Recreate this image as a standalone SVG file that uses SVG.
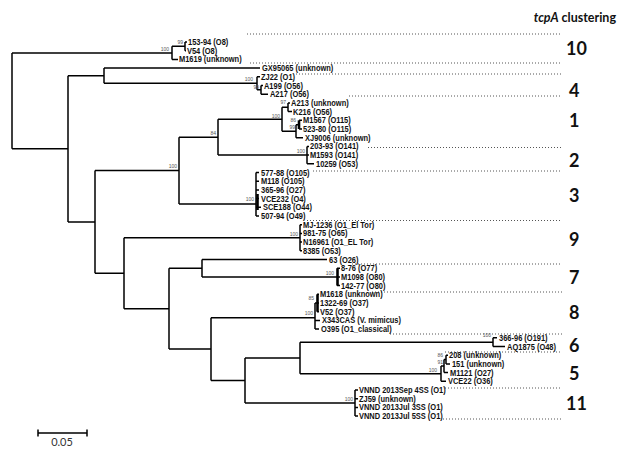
<svg xmlns="http://www.w3.org/2000/svg" width="627" height="450" viewBox="0 0 627 450">
<style>
.br{fill:none;stroke:#000;stroke-width:1.5}
.thk{fill:none;stroke:#000;stroke-width:2.6}
.dot{fill:none;stroke:#555;stroke-width:1;stroke-dasharray:1 2}
.lf{font-family:"Liberation Sans",Arial,sans-serif;font-weight:bold;font-size:8.6px;fill:#111}
.bs{font-family:"Liberation Sans",Arial,sans-serif;font-size:5px;fill:#555;text-anchor:end}
.cl{font-family:Lato,"Open Sans",sans-serif;font-weight:bold;font-size:18px;fill:#111}
.ti{font-family:Lato,"Open Sans",sans-serif;font-weight:bold;font-size:12.5px;fill:#111}
.sc{font-family:Lato,"Open Sans",sans-serif;font-size:11px;fill:#333;text-anchor:middle}
</style>
<rect width="627" height="450" fill="#fff"/>
<text class="ti" x="616" y="22" text-anchor="end"><tspan font-style="italic">tcpA</tspan> clustering</text>
<g id="separators">
<path class="dot" d="M247,34 H562 M250,63 H562 M296,74 H562 M349,96 H562 M368,147.5 H562 M313,171 H562 M307,220.5 H562 M352,264 H562 M372,292 H562 M390,334 H562 M445,352 H562 M445,388 H562 M443,419 H562"/>
</g>
<g id="connectors">
<path class="br" d="M12,52.9 V148.8 M12,52.9 H172 M12,148.8 H68"/>
<path class="br" d="M172,46.35 V59.4 M172,46.35 H185 M172,59.4 H178"/>
<path class="br" d="M185,42 V50.7 M185,42 H187 M185,50.7 H186"/>
<path class="br" d="M68,75.7 V221.9 M68,75.7 H104 M68,221.9 H95"/>
<path class="br" d="M104,68.1 V83.3 M104,68.1 H260 M104,83.3 H257"/>
<path class="br" d="M257,76.8 V89.85 M257,76.8 H260 M257,89.85 H261"/>
<path class="br" d="M261,85.5 V94.2 M261,85.5 H263 M261,94.2 H268"/>
<path class="br" d="M95,170.6 V273.2 M95,170.6 H179 M95,273.2 H124"/>
<path class="br" d="M179,137.15 V204 M179,137.15 H218 M179,204 H256"/>
<path class="br" d="M218,119.2 V155.1 M218,119.2 H282 M218,155.1 H307"/>
<path class="br" d="M282,107.25 V131.2 M282,107.25 H288 M282,131.2 H296"/>
<path class="br" d="M288,102.9 V111.6 M288,102.9 H290 M288,111.6 H292"/>
<path class="br" d="M296,124.65 V137.7 M296,124.65 H299 M296,137.7 H303"/>
<path class="thk" d="M299,120.3 V129"/>
<path class="br" d="M299,120.3 H302 M299,129 H302"/>
<path class="br" d="M307,146.4 V163.8 M307,146.4 H309 M307,155.1 H309 M307,163.8 H314"/>
<path class="br" d="M256,172.5 V216 M256,172.5 H259 M256,181.2 H259 M256,189.9 H259 M256,198.6 H259 M256,207.3 H261 M256,216 H259"/>
<path class="thk" d="M257.5,194 V210"/>
<path class="br" d="M124,237.75 V308.65 M124,237.75 H300 M124,308.65 H169"/>
<path class="br" d="M300,224.7 V250.8 M300,224.7 H302 M300,233.4 H302 M300,242.1 H302 M300,250.8 H302"/>
<path class="br" d="M169,268.2 V349.1 M169,268.2 H202 M169,349.1 H211"/>
<path class="br" d="M202,259.5 V276.9 M202,259.5 H327 M202,276.9 H337"/>
<path class="thk" d="M337.5,268.2 V285.6"/>
<path class="br" d="M337,268.2 H340 M337,276.9 H340 M337,285.6 H340"/>
<path class="br" d="M211,317.7 V380.5 M211,317.7 H315 M211,380.5 H245"/>
<path class="br" d="M315,303 V329.1 M315,303 H317 M315,320.4 H320 M315,329.1 H319"/>
<path class="thk" d="M317.5,294.3 V311.7"/>
<path class="br" d="M317,294.3 H319 M317,303 H319 M317,311.7 H319"/>
<path class="br" d="M245,357.9 V403.05 M245,357.9 H300 M245,403.05 H355"/>
<path class="br" d="M300,342.15 V373.7 M300,342.15 H493 M300,373.7 H441"/>
<path class="br" d="M493,337.8 V346.5 M493,337.8 H497 M493,346.5 H505"/>
<path class="br" d="M441,366.1 V381.3 M441,366.1 H444 M441,381.3 H446"/>
<path class="br" d="M444,359.55 V372.6 M444,359.55 H446 M444,372.6 H448"/>
<path class="br" d="M446,355.2 V363.9 M446,355.2 H448 M446,363.9 H450"/>
<path class="br" d="M355,390 V416.1 M355,390 H358 M355,398.7 H358 M355,407.4 H358 M355,416.1 H358"/>
</g>
<g id="bootstrap">
<text class="bs" x="169" y="51">100</text>
<text class="bs" x="183" y="44">99</text>
<text class="bs" x="253" y="81">100</text>
<text class="bs" x="259" y="89">99</text>
<text class="bs" x="286" y="104">97</text>
<text class="bs" x="280" y="118">100</text>
<text class="bs" x="296" y="122">86</text>
<text class="bs" x="295" y="129">99</text>
<text class="bs" x="216" y="135">84</text>
<text class="bs" x="177" y="168">100</text>
<text class="bs" x="305" y="153">100</text>
<text class="bs" x="254" y="201">100</text>
<text class="bs" x="298" y="236">100</text>
<text class="bs" x="334" y="275">100</text>
<text class="bs" x="314" y="300">85</text>
<text class="bs" x="313" y="315">100</text>
<text class="bs" x="491" y="337">100</text>
<text class="bs" x="443" y="357">86</text>
<text class="bs" x="443" y="364">91</text>
<text class="bs" x="437" y="372">100</text>
<text class="bs" x="353" y="401">100</text>
</g>
<g id="leaves" transform="scale(0.87,1)">
<g id="n153-94"><text class="lf" x="216.1" y="45.1">153-94 (O8)</text></g>
<g id="nV54"><text class="lf" x="214.9" y="53.8">V54 (O8)</text></g>
<g id="nM1619"><text class="lf" x="205.7" y="62.5">M1619 (unknown)</text></g>
<g id="nGX95065"><text class="lf" x="301.1" y="71.2">GX95065 (unknown)</text></g>
<g id="nZJ22"><text class="lf" x="300" y="79.9">ZJ22 (O1)</text></g>
<g id="nA199"><text class="lf" x="303.4" y="88.6">A199 (O56)</text></g>
<g id="nA217"><text class="lf" x="310.3" y="97.3">A217 (O56)</text></g>
<g id="nA213"><text class="lf" x="334.5" y="106">A213 (unknown)</text></g>
<g id="nK216"><text class="lf" x="336.8" y="114.7">K216 (O56)</text></g>
<g id="nM1567"><text class="lf" x="348.3" y="123.4">M1567 (O115)</text></g>
<g id="n523-80"><text class="lf" x="348.3" y="132.1">523-80 (O115)</text></g>
<g id="nXJ9006"><text class="lf" x="350.6" y="140.8">XJ9006 (unknown)</text></g>
<g id="n203-93"><text class="lf" x="356.3" y="149.5">203-93 (O141)</text></g>
<g id="nM1593"><text class="lf" x="356.3" y="158.2">M1593 (O141)</text></g>
<g id="n10259"><text class="lf" x="363.2" y="166.9">10259 (O53)</text></g>
<g id="n577-88"><text class="lf" x="300" y="175.6">577-88 (O105)</text></g>
<g id="nM118"><text class="lf" x="300" y="184.3">M118 (O105)</text></g>
<g id="n365-96"><text class="lf" x="300" y="193">365-96 (O27)</text></g>
<g id="nVCE232"><text class="lf" x="300" y="201.7">VCE232 (O4)</text></g>
<g id="nSCE188"><text class="lf" x="302.3" y="210.4">SCE188 (O44)</text></g>
<g id="n507-94"><text class="lf" x="300" y="219.1">507-94 (O49)</text></g>
<g id="nMJ-1236"><text class="lf" x="348.3" y="227.8">MJ-1236 (O1_El Tor)</text></g>
<g id="n981-75"><text class="lf" x="348.3" y="236.5">981-75 (O65)</text></g>
<g id="nN16961"><text class="lf" x="348.3" y="245.2">N16961 (O1_EL Tor)</text></g>
<g id="n8385"><text class="lf" x="348.3" y="253.9">8385 (O53)</text></g>
<g id="n63"><text class="lf" x="378.2" y="262.6">63 (O26)</text></g>
<g id="n8-76"><text class="lf" x="392" y="271.3">8-76 (O77)</text></g>
<g id="nM1098"><text class="lf" x="392" y="280">M1098 (O80)</text></g>
<g id="n142-77"><text class="lf" x="392" y="288.7">142-77 (O80)</text></g>
<g id="nM1618"><text class="lf" x="367.8" y="297.4">M1618 (unknown)</text></g>
<g id="n1322-69"><text class="lf" x="367.8" y="306.1">1322-69 (O37)</text></g>
<g id="nV52"><text class="lf" x="367.8" y="314.8">V52 (O37)</text></g>
<g id="nX343CAS"><text class="lf" x="370.1" y="323.5">X343CAS (V. mimicus)</text></g>
<g id="nO395"><text class="lf" x="369" y="332.2">O395 (O1_classical)</text></g>
<g id="n366-96"><text class="lf" x="573.6" y="340.9">366-96 (O191)</text></g>
<g id="nAQ1875"><text class="lf" x="582.8" y="349.6">AQ1875 (O48)</text></g>
<g id="n208"><text class="lf" x="516.1" y="358.3">208 (unknown)</text></g>
<g id="n151"><text class="lf" x="519.5" y="367">151 (unknown)</text></g>
<g id="nM1121"><text class="lf" x="517.2" y="375.7">M1121 (O27)</text></g>
<g id="nVCE22"><text class="lf" x="514.9" y="384.4">VCE22 (O36)</text></g>
<g id="nVNND-Sep4"><text class="lf" x="412.6" y="393.1">VNND 2013Sep 4SS (O1)</text></g>
<g id="nZJ59"><text class="lf" x="412.6" y="401.8">ZJ59 (unknown)</text></g>
<g id="nVNND-Jul3"><text class="lf" x="412.6" y="410.5">VNND 2013Jul 3SS (O1)</text></g>
<g id="nVNND-Jul5"><text class="lf" x="412.6" y="419.2">VNND 2013Jul 5SS (O1)</text></g>
</g>
<g id="clusters">
<text class="cl" x="566" y="55">10</text>
<text class="cl" x="569" y="97">4</text>
<text class="cl" x="569" y="127">1</text>
<text class="cl" x="569" y="167">2</text>
<text class="cl" x="569" y="202">3</text>
<text class="cl" x="569" y="246">9</text>
<text class="cl" x="569" y="284">7</text>
<text class="cl" x="569" y="319">8</text>
<text class="cl" x="569" y="352">6</text>
<text class="cl" x="569" y="380">5</text>
<text class="cl" x="566" y="410">11</text>
</g>
<g id="scalebar">
<path class="br" d="M38,433 H87 M38,429.5 V436.5 M87,429.5 V436.5"/>
<text class="sc" x="62" y="446">0.05</text>
</g>
</svg>
